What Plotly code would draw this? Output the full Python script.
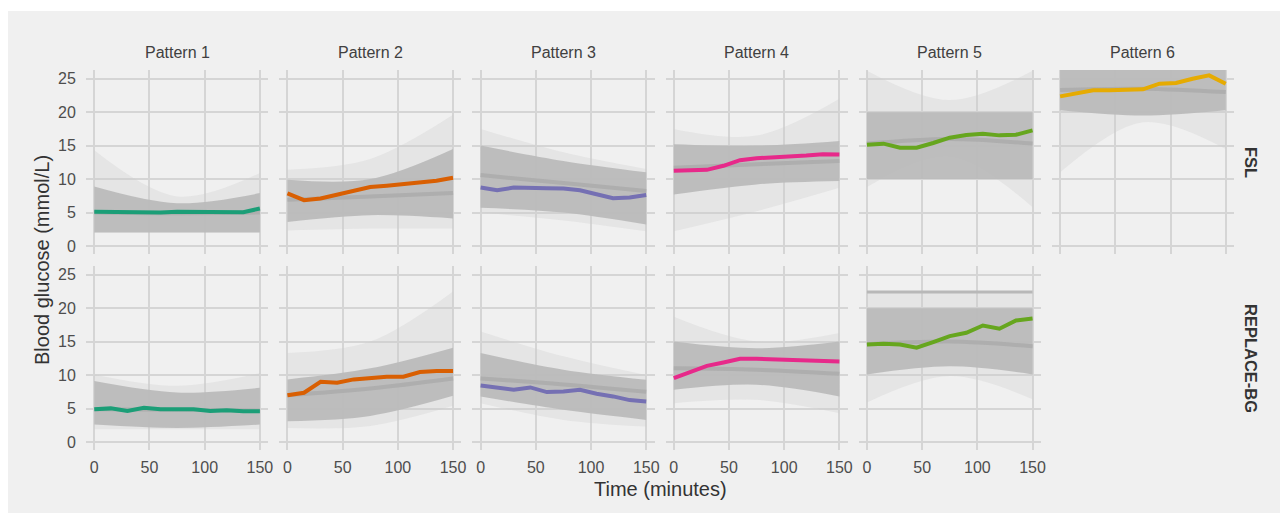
import plotly.graph_objects as go
from plotly.subplots import make_subplots

# ---------------- data ----------------
PATTERNS = ["Pattern 1", "Pattern 2", "Pattern 3", "Pattern 4", "Pattern 5", "Pattern 6"]
STUDIES = ["FSL", "REPLACE-BG"]
TIME = [0, 15, 30, 45, 60, 75, 90, 105, 120, 135, 150]
X_TICKS = [0, 50, 100, 150]
Y_TICKS = [0, 5, 10, 15, 20, 25]
COLORS = ["#1b9e77", "#d95f02", "#7570b3", "#e7298a", "#66a61e", "#e6ab02"]

# highlighted (centroid) curves
fsl_p1 = [5.1, 5.05, 5.0, 4.9, 5.0, 5.1, 5.1, 5.2, 5.2, 5.05, 5.6]
fsl_p2 = [7.86, 6.85, 7.1, 7.7, 8.3, 8.8, 9.0, 9.3, 9.5, 9.75, 10.2]
fsl_p3 = [8.73, 8.33, 8.73, 8.63, 8.63, 8.58, 8.33, 7.73, 7.14, 7.24, 7.63]
fsl_p4 = [11.23, 11.23, 11.38, 11.98, 12.82, 13.12, 13.22, 13.32, 13.52, 13.72, 13.67]
fsl_p5 = [15.14, 15.29, 14.69, 14.69, 15.39, 16.19, 16.58, 16.78, 16.53, 16.63, 17.28]
fsl_p6 = [22.36, 22.86, 23.26, 23.26, 23.26, 23.41, 24.25, 24.35, 25.0, 25.5, 24.25]
rbg_p1 = [4.88, 5.02, 4.63, 5.12, 4.88, 4.88, 4.88, 4.63, 4.73, 4.58, 4.58]
rbg_p2 = [6.97, 7.36, 9.0, 8.86, 9.35, 9.6, 9.75, 9.75, 10.45, 10.6, 10.6]
rbg_p3 = [8.45, 8.05, 7.8, 8.15, 7.46, 7.55, 7.8, 7.2, 6.81, 6.26, 6.06]
rbg_p4 = [9.54, 10.54, 11.38, 11.88, 12.43, 12.43, 12.38, 12.33, 12.23, 12.18, 12.03]
rbg_p5 = [14.58, 14.68, 14.58, 14.08, 14.93, 15.82, 16.32, 17.41, 16.92, 18.16, 18.46]
rbg_p6 = None

# grey spaghetti of individual curves, summarised as envelopes at 0 / 75 / 150 min
BAND_T = [0, 75, 150]
fsl_outer_hi = [[14.3, 7.4, 10.9], [11.4, 13.0, 19.6], [17.5, 14.0, 11.5], [17.5, 16.5, 22.0], [26.2, 21.8, 26.2], [26.3, 26.3, 26.3]]
fsl_inner_hi = [[8.9, 6.4, 7.9], [9.9, 10.0, 14.5], [15.0, 12.7, 11.0], [15.2, 15.0, 15.7], [20.0, 20.0, 20.0], [26.3, 26.3, 26.3]]
fsl_inner_lo = [[2.0, 2.0, 2.0], [3.6, 4.6, 4.1], [5.7, 5.0, 3.2], [7.7, 9.2, 9.7], [10.0, 10.0, 10.0], [20.3, 19.5, 20.3]]
fsl_outer_lo = [[2.0, 2.0, 2.0], [2.3, 2.6, 2.6], [5.0, 3.8, 2.2], [2.2, 5.2, 8.7], [8.8, 13.3, 5.8], [11.0, 18.5, 14.5]]
fsl_mean = [[5.0, 4.9, 5.0], [6.9, 7.4, 7.9], [10.6, 9.4, 8.2], [11.7, 12.2, 12.7], [15.3, 16.0, 15.3], [23.3, 23.5, 23.0]]

rbg_outer_hi = [[10.1, 8.4, 10.3], [13.3, 15.0, 22.5], [16.5, 12.8, 10.0], [18.7, 15.0, 16.3], [22.4, 22.4, 22.4], None]
rbg_inner_hi = [[9.1, 7.4, 8.1], [9.35, 11.0, 14.1], [13.3, 10.8, 9.3], [15.0, 14.0, 15.0], [20.0, 20.0, 20.0], None]
rbg_inner_lo = [[2.6, 2.1, 2.6], [3.1, 3.9, 6.9], [6.8, 4.8, 3.3], [7.8, 8.55, 6.8], [10.1, 11.3, 10.1], None]
rbg_outer_lo = [[1.9, 1.9, 1.9], [2.1, 2.4, 5.4], [5.8, 3.3, 2.3], [5.8, 6.3, 4.3], [5.9, 9.85, 6.4], None]
rbg_mean = [[4.9, 4.8, 4.7], [7.0, 8.0, 9.5], [9.5, 8.6, 7.5], [11.0, 10.8, 10.2], [14.6, 15.0, 14.3], None]
rbg_p5_cap = [22.4, 22.4, 22.4]

highlight = [[fsl_p1, fsl_p2, fsl_p3, fsl_p4, fsl_p5, fsl_p6],
             [rbg_p1, rbg_p2, rbg_p3, rbg_p4, rbg_p5, rbg_p6]]
outer_hi = [fsl_outer_hi, rbg_outer_hi]
inner_hi = [fsl_inner_hi, rbg_inner_hi]
inner_lo = [fsl_inner_lo, rbg_inner_lo]
outer_lo = [fsl_outer_lo, rbg_outer_lo]
means = [fsl_mean, rbg_mean]

# ---------------- figure ----------------
# the page body adds an 8 px offset; figure coordinates are page coordinates minus 8
W, H = 1280, 507
ML, MR, MT, MB = 78, 54, 62, 65
PW, PH = W - ML - MR, H - MT - MB

FONT = "Liberation Sans, Arial, sans-serif"
LIGHT = "rgba(205,205,205,0.32)"
DENSE = "rgba(186,186,186,0.93)"
MEANC = "rgba(172,172,172,0.9)"

fig = make_subplots(rows=2, cols=6, horizontal_spacing=11 / PW, vertical_spacing=12 / PH)

spline = dict(shape="spline", smoothing=1.0, width=0)
for r in range(2):
    for c in range(6):
        row, col = r + 1, c + 1
        if outer_hi[r][c] is not None:
            fig.add_trace(go.Scatter(x=BAND_T, y=outer_lo[r][c], mode="lines", line=spline,
                                     hoverinfo="skip", showlegend=False), row=row, col=col)
            fig.add_trace(go.Scatter(x=BAND_T, y=outer_hi[r][c], mode="lines", line=spline,
                                     fill="tonexty", fillcolor=LIGHT,
                                     hoverinfo="skip", showlegend=False), row=row, col=col)
            fig.add_trace(go.Scatter(x=BAND_T, y=inner_lo[r][c], mode="lines", line=spline,
                                     hoverinfo="skip", showlegend=False), row=row, col=col)
            fig.add_trace(go.Scatter(x=BAND_T, y=inner_hi[r][c], mode="lines", line=spline,
                                     fill="tonexty", fillcolor=DENSE,
                                     hoverinfo="skip", showlegend=False), row=row, col=col)
            fig.add_trace(go.Scatter(x=BAND_T, y=means[r][c], mode="lines",
                                     line=dict(shape="spline", color=MEANC, width=4),
                                     hoverinfo="skip", showlegend=False), row=row, col=col)
        if r == 1 and c == 4:
            fig.add_trace(go.Scatter(x=BAND_T, y=rbg_p5_cap, mode="lines",
                                     line=dict(color="#b8b8b8", width=3),
                                     hoverinfo="skip", showlegend=False), row=row, col=col)
        if highlight[r][c] is not None:
            fig.add_trace(go.Scatter(x=TIME, y=highlight[r][c], mode="lines",
                                     line=dict(color=COLORS[c], width=4),
                                     name=f"{PATTERNS[c]} {STUDIES[r]}", showlegend=False),
                          row=row, col=col)

axis_common = dict(showgrid=True, gridcolor="#d5d5d5", gridwidth=1.6, zeroline=False,
                   showline=False, ticks="outside", tickcolor="rgba(0,0,0,0)",
                   tickfont=dict(family=FONT, size=16, color="#4d4d4d"), fixedrange=True,
                   automargin=False)
fig.update_xaxes(range=[-7.5, 157.5], tickvals=X_TICKS, ticklen=3, **axis_common)
fig.update_yaxes(range=[-1.2, 26.3], tickvals=Y_TICKS, ticklen=6, **axis_common)
for c in range(1, 7):
    fig.update_xaxes(showticklabels=False, row=1, col=c)
    if c > 1:
        fig.update_yaxes(showticklabels=False, row=1, col=c)
        fig.update_yaxes(showticklabels=False, row=2, col=c)

annotations = []
col_w = (1 - 5 * 11 / PW) / 6
for c, name in enumerate(PATTERNS):
    xc = c * (col_w + 11 / PW) + col_w / 2
    annotations.append(dict(text=name, x=xc, y=1 + 17 / PH, xref="paper", yref="paper",
                            showarrow=False, xanchor="center", yanchor="middle",
                            font=dict(family=FONT, size=16, color="#404040")))
row_h = (1 - 12 / PH) / 2
for r, name in enumerate(STUDIES):
    yc = 1 - (r * (row_h + 12 / PH) + row_h / 2)
    annotations.append(dict(text=f"<b>{name}</b>", x=1 + 17 / PW, y=yc, xref="paper", yref="paper",
                            showarrow=False, textangle=90, xanchor="center", yanchor="middle",
                            font=dict(family=FONT, size=16.5, color="#333333")))
annotations.append(dict(text="Time (minutes)", x=0.5, y=-39 / PH, xref="paper", yref="paper",
                        showarrow=False, xanchor="center", yanchor="middle",
                        font=dict(family=FONT, size=20, color="#333333")))
annotations.append(dict(text="Blood glucose (mmol/L)", x=-44 / PW, y=0.5, xref="paper", yref="paper",
                        showarrow=False, textangle=-90, xanchor="center", yanchor="middle",
                        font=dict(family=FONT, size=20, color="#333333")))

# grey backdrop (page x 7..1280, y 11..513)
bg = dict(type="rect", xref="paper", yref="paper", layer="below",
          x0=(-1 - ML) / PW, x1=(1272 - ML) / PW,
          y0=-(505 - (H - MB)) / PH, y1=(H - MB - 3) / PH,
          fillcolor="#f0f0f0", line=dict(width=0))

fig.update_layout(width=W, height=H, margin=dict(l=ML, r=MR, t=MT, b=MB, autoexpand=False),
                  paper_bgcolor="white", plot_bgcolor="#f0f0f0",
                  annotations=annotations, shapes=[bg], showlegend=False,
                  font=dict(family=FONT))

fig.write_html("out.html")
